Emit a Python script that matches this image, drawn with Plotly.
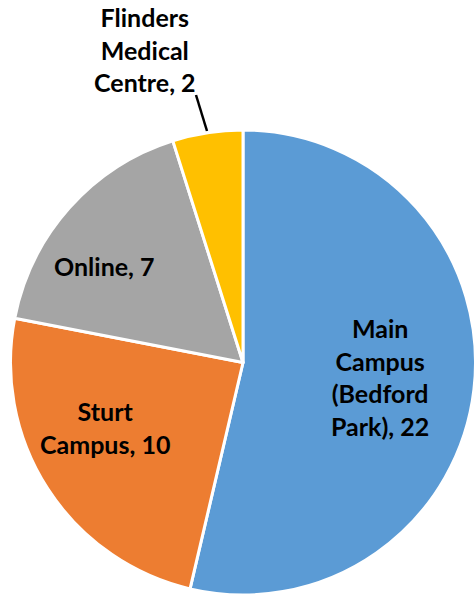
import plotly.graph_objects as go

W, H = 476, 595
labels = ["Main Campus (Bedford Park)", "Sturt Campus", "Online", "Flinders Medical Centre"]
values = [22, 10, 7, 2]
colors = ["#5B9BD5", "#ED7D31", "#A5A5A5", "#FFC000"]
label_lines = [
    ["Main", "Campus", "(Bedford", "Park), 22"],
    ["Sturt", "Campus, 10"],
    ["Online, 7"],
    ["Flinders", "Medical", "Centre, 2"],
]
# label anchor points in pixels (text placement)
label_pos = [(380, 377), (105, 427), (104, 266), (145, 49)]

fig = go.Figure(go.Pie(
    labels=labels, values=values, sort=False, direction="clockwise", rotation=0,
    marker=dict(colors=colors, line=dict(color="white", width=3)),
    textinfo="none", hoverinfo="label+value", showlegend=False,
    domain=dict(x=[10 / W, 1], y=[0, 465 / H]),
))

font = dict(family="Lato, 'Open Sans', sans-serif", size=25, color="black")
anns = []
for lines, (px, py) in zip(label_lines, label_pos):
    anns.append(dict(
        text="<b>" + "<br>".join(lines) + "</b>", x=px / W, y=1 - py / H,
        xref="paper", yref="paper", showarrow=False, font=font, align="center",
        xanchor="center", yanchor="middle",
    ))

fig.update_layout(
    width=W, height=H, margin=dict(l=0, r=0, t=0, b=0),
    paper_bgcolor="white", plot_bgcolor="white", annotations=anns,
    shapes=[dict(type="line", xref="paper", yref="paper",
                 x0=196 / W, y0=1 - 95 / H, x1=207 / W, y1=1 - 131 / H,
                 line=dict(color="black", width=2.5))],
)
fig.write_html("out.html", config={"displayModeBar": False},
               post_script="document.body.style.margin='0';")
